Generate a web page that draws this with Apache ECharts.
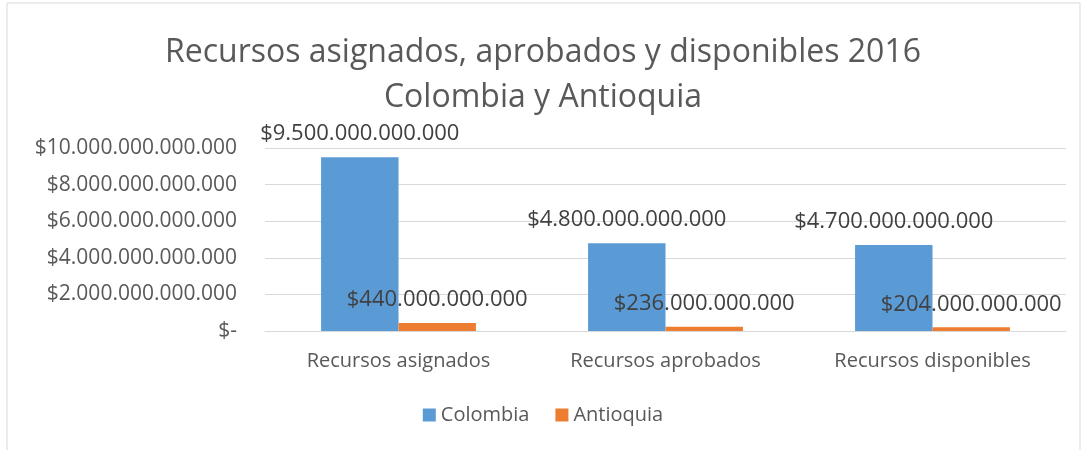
<!DOCTYPE html>
<html>
<head>
<meta charset="utf-8">
<script src="https://cdn.jsdelivr.net/npm/echarts@6/dist/echarts.min.js"></script>
<style>
  html, body { margin: 0; padding: 0; background: #fff; }
  #main { width: 1086px; height: 450px; }
</style>
</head>
<body>
<div id="main"></div>
<script>
// datos del grafico
var categorias = ['Recursos asignados', 'Recursos aprobados', 'Recursos disponibles'];
var colombia = [9500000000000, 4800000000000, 4700000000000];
var antioquia = [440000000000, 236000000000, 204000000000];
var ticksY = [0, 2000000000000, 4000000000000, 6000000000000, 8000000000000, 10000000000000];

// formato con puntos de miles
function pesos(v) {
  if (v === 0) return '$-';
  return '$' + String(v).replace(/\B(?=(\d{3})+(?!\d))/g, '.');
}

var fuente = 'Open Sans';
var gris = '#595959';

var chart = echarts.init(document.getElementById('main'));
var option = {
  textStyle: { fontFamily: fuente },
  title: {
    text: 'Recursos asignados, aprobados y disponibles 2016\nColombia y Antioquia',
    left: 'center',
    top: 25,
    textStyle: { fontFamily: fuente, fontSize: 32, fontWeight: 'normal', color: gris, lineHeight: 45 }
  },
  legend: {
    bottom: 20,
    left: 'center',
    itemWidth: 13,
    itemHeight: 13,
    itemGap: 26,
    icon: 'rect',
    textStyle: { fontFamily: fuente, fontSize: 20, color: gris }
  },
  grid: { left: 265, right: 20, top: 148, bottom: 119, containLabel: false },
  xAxis: {
    type: 'category',
    data: categorias,
    axisLine: { lineStyle: { color: '#d9d9d9' } },
    axisTick: { show: false },
    axisLabel: { fontFamily: fuente, fontSize: 20, color: gris, margin: 20 }
  },
  yAxis: {
    type: 'value',
    min: ticksY[0],
    max: ticksY[ticksY.length - 1],
    interval: ticksY[1] - ticksY[0],
    axisLine: { show: false },
    axisTick: { show: false },
    splitLine: { lineStyle: { color: '#d9d9d9', width: 1 } },
    axisLabel: { fontFamily: fuente, fontSize: 21, color: gris, margin: 28, formatter: pesos }
  },
  series: [
    {
      name: 'Colombia',
      type: 'bar',
      data: colombia,
      barGap: '0%',
      barCategoryGap: '42%',
      itemStyle: { color: '#5b9bd5' },
      label: { show: true, position: 'top', distance: 12, fontFamily: fuente, fontSize: 22, color: '#404040', formatter: function (p) { return pesos(p.value); } }
    },
    {
      name: 'Antioquia',
      type: 'bar',
      data: antioquia,
      itemStyle: { color: '#ed7d31' },
      label: { show: true, position: 'top', distance: 12, fontFamily: fuente, fontSize: 22, color: '#404040', formatter: function (p) { return pesos(p.value); } }
    }
  ],
  graphic: [
    { type: 'line', shape: { x1: 7, y1: 3, x2: 1080, y2: 3 }, style: { stroke: '#d9d9d9', lineWidth: 1 } },
    { type: 'line', shape: { x1: 7, y1: 3, x2: 7, y2: 450 }, style: { stroke: '#d9d9d9', lineWidth: 1 } },
    { type: 'line', shape: { x1: 1080, y1: 3, x2: 1080, y2: 450 }, style: { stroke: '#d9d9d9', lineWidth: 1 } }
  ]
};
chart.setOption(option);
</script>
</body>
</html>
